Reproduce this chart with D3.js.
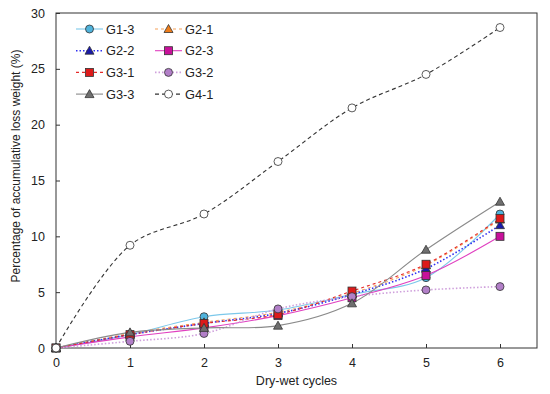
<!DOCTYPE html>
<html>
<head>
<meta charset="utf-8">
<script src="https://cdn.jsdelivr.net/npm/d3@7"></script>
<style>
  body { margin: 0; background: #fff; }
  text { font-family: "Liberation Sans", Arial, sans-serif; fill: #222; }
</style>
</head>
<body>
<script>
// cycles and measured values
const cycles = [0, 1, 2, 3, 4, 5, 6];
const g13 = [0, 1.2, 2.8, 3.4, 4.8, 6.3, 12.0];
const g21 = [0, 1.3, 2.3, 3.2, 4.9, 7.4, 11.5];
const g22 = [0, 1.2, 2.2, 3.1, 4.8, 7.1, 11.0];
const g23 = [0, 1.0, 1.8, 2.9, 4.5, 6.5, 10.0];
const g31 = [0, 1.2, 2.2, 3.0, 5.1, 7.5, 11.6];
const g32 = [0, 0.6, 1.3, 3.5, 4.6, 5.2, 5.5];
const g33 = [0, 1.4, 1.8, 2.0, 4.0, 8.8, 13.1];
const g41 = [0, 9.2, 12.0, 16.7, 21.5, 24.5, 28.7];
const xTicks = [0, 1, 2, 3, 4, 5, 6];
const yTicks = [0, 5, 10, 15, 20, 25, 30];

const series = [
  { name: "G1-3", values: g13, line: "#7cc8ea", dash: null, shape: "circle", fill: "#4fb3dc" },
  { name: "G2-1", values: g21, line: "#f5a25a", dash: "3,3", shape: "triangle", fill: "#ef7d1a" },
  { name: "G2-2", values: g22, line: "#3030f0", dash: "1.5,2", shape: "triangle", fill: "#1a1aa8" },
  { name: "G2-3", values: g23, line: "#e040c0", dash: null, shape: "square", fill: "#c8109a" },
  { name: "G3-1", values: g31, line: "#e52a2a", dash: "3,3", shape: "square", fill: "#dd1a1a" },
  { name: "G3-2", values: g32, line: "#cfa0dc", dash: "1.5,2", shape: "circle", fill: "#b27fc8" },
  { name: "G3-3", values: g33, line: "#8a8a8a", dash: null, shape: "triangle", fill: "#6f6f6f" },
  { name: "G4-1", values: g41, line: "#333", dash: "4,3", shape: "circle", fill: "#fff" }
];

const W = 550, H = 394;
const m = { left: 56, right: 13, top: 13, bottom: 46 };

const svg = d3.select("body").append("svg")
  .attr("width", W).attr("height", H);

const x = d3.scaleLinear().domain([0, 6.5]).range([m.left, W - m.right]);
const y = d3.scaleLinear().domain([0, 30]).range([H - m.bottom, m.top]);

// axes, ticks pointing inward
svg.append("g")
  .attr("transform", `translate(0,${H - m.bottom})`)
  .call(d3.axisBottom(x).tickValues(xTicks).tickSize(-4).tickPadding(10).tickFormat(d3.format("d")))
  .call(g => g.select(".domain").remove())
  .call(g => g.selectAll("line").attr("stroke", "#333"))
  .call(g => g.selectAll("text").attr("font-size", 12.5).style("fill", "#222"));

svg.append("g")
  .attr("transform", `translate(${m.left},0)`)
  .call(d3.axisLeft(y).tickValues(yTicks).tickSize(-4).tickPadding(11))
  .call(g => g.select(".domain").remove())
  .call(g => g.selectAll("line").attr("stroke", "#333"))
  .call(g => g.selectAll("text").attr("font-size", 12.5).style("fill", "#222"));

svg.append("rect")
  .attr("x", m.left).attr("y", m.top)
  .attr("width", W - m.left - m.right).attr("height", H - m.top - m.bottom)
  .attr("fill", "none").attr("stroke", "#333").attr("stroke-width", 1);

svg.append("text")
  .attr("x", (m.left + W - m.right) / 2).attr("y", H - 9)
  .attr("text-anchor", "middle").attr("font-size", 12.5)
  .text("Dry-wet cycles");

svg.append("text")
  .attr("transform", "translate(20,166) rotate(-90)")
  .attr("text-anchor", "middle").attr("font-size", 12)
  .text("Percentage of accumulative loss weight (%)");

const line = d3.line()
  .x((d, i) => x(cycles[i]))
  .y(d => y(d))
  .curve(d3.curveCatmullRom.alpha(0.5));

function marker(sel, s, cx, cy) {
  if (s.shape === "circle") {
    sel.append("circle").attr("cx", cx).attr("cy", cy).attr("r", 4)
      .attr("fill", s.fill).attr("stroke", "#333").attr("stroke-width", 0.8);
  } else if (s.shape === "square") {
    sel.append("rect").attr("x", cx - 4).attr("y", cy - 4).attr("width", 8).attr("height", 8)
      .attr("fill", s.fill).attr("stroke", "#333").attr("stroke-width", 0.8);
  } else {
    sel.append("path")
      .attr("d", `M${cx},${cy - 4.5}L${cx + 4.5},${cy + 3.5}L${cx - 4.5},${cy + 3.5}Z`)
      .attr("fill", s.fill).attr("stroke", "#333").attr("stroke-width", 0.8);
  }
}

const lines = svg.append("g");
series.forEach(s => {
  lines.append("path")
    .attr("d", line(s.values))
    .attr("fill", "none")
    .attr("stroke", s.line)
    .attr("stroke-width", s.dash && s.dash.startsWith("1.5") ? 1.6 : 1.1)
    .attr("stroke-dasharray", s.dash);
});

const marks = svg.append("g");
series.forEach(s => {
  s.values.forEach((v, i) => marker(marks, s, x(cycles[i]), y(v)));
});

// legend
const leg = svg.append("g");
series.forEach((s, i) => {
  const col = i % 2, row = Math.floor(i / 2);
  const lx = col === 0 ? 76 : 155, ly = 29 + row * 21.7;
  leg.append("line")
    .attr("x1", lx).attr("x2", lx + 27).attr("y1", ly).attr("y2", ly)
    .attr("stroke", s.line)
    .attr("stroke-width", s.dash && s.dash.startsWith("1.5") ? 1.6 : 1.1)
    .attr("stroke-dasharray", s.dash);
  marker(leg, s, lx + 13.5, ly);
  leg.append("text")
    .attr("x", lx + 30).attr("y", ly + 4.5)
    .attr("font-size", 12.8)
    .text(s.name);
});
</script>
</body>
</html>
